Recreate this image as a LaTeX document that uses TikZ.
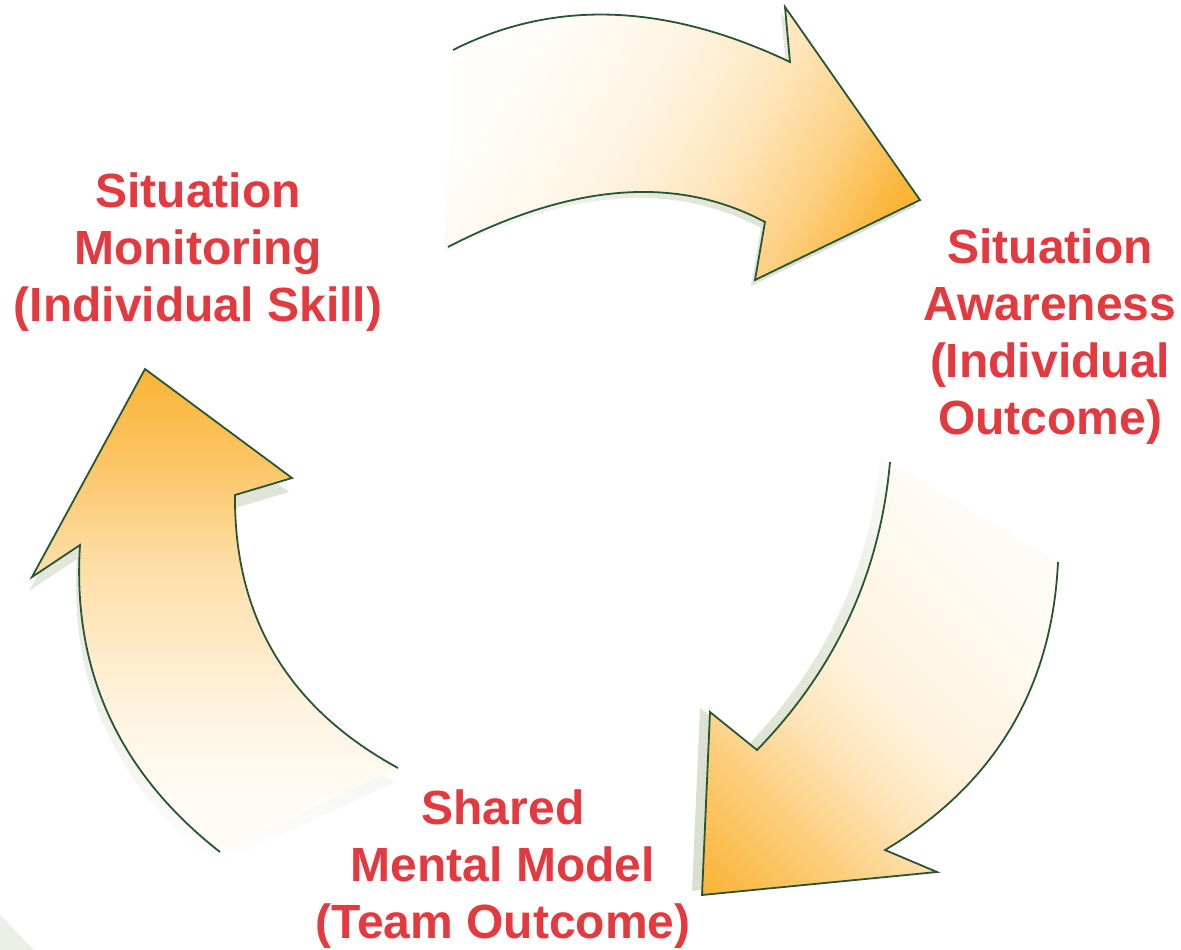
\documentclass[tikz,border=0pt]{standalone}
\usepackage{fontspec}
\setmainfont{Liberation Sans}
\definecolor{arrowOrange}{RGB}{251,180,55}
\definecolor{arrowLine}{RGB}{40,85,50}
\definecolor{labelRed}{RGB}{227,57,63}
\definecolor{shadowC}{RGB}{218,224,208}
\pgfdeclareverticalshading{topfade}{100bp}{color(0bp)=(arrowOrange); color(23bp)=(arrowOrange); color(33bp)=(arrowOrange!62!white); color(44bp)=(arrowOrange!33!white); color(56bp)=(arrowOrange!15!white); color(72bp)=(arrowOrange!3!white); color(100bp)=(white)}
\pgfdeclareverticalshading{rightfade}{100bp}{color(0bp)=(arrowOrange); color(15bp)=(arrowOrange); color(27bp)=(arrowOrange!70!white); color(40bp)=(arrowOrange!34!white); color(49bp)=(arrowOrange!17!white); color(72bp)=(arrowOrange!4!white); color(100bp)=(white)}
\pgfdeclareverticalshading{leftfade}{100bp}{color(0bp)=(arrowOrange); color(25bp)=(arrowOrange); color(33bp)=(arrowOrange!82!white); color(45bp)=(arrowOrange!45!white); color(60bp)=(arrowOrange!16!white); color(70bp)=(arrowOrange!4!white); color(100bp)=(white)}
\pgfdeclareverticalshading{shadowfade}{100bp}{color(0bp)=(shadowC); color(25bp)=(shadowC); color(50bp)=(shadowC!70!white); color(75bp)=(white); color(100bp)=(white)}
\begin{document}
\begin{tikzpicture}[x=1pt,y=-1pt,
  arrowshape/.style={draw=arrowLine, line width=1.8pt, line join=miter, shade},
  label/.style={text=labelRed, font=\bfseries\fontsize{48}{57}\selectfont, align=center, inner sep=0pt}]
\useasboundingbox (0,0) rectangle (1181,950);
% faint corner
\fill[shadowC!50!white] (0,915) -- (34,950) -- (0,950) -- cycle;
% ---- shadows
\begin{scope}[shift={(-4,6)}]
\shade[shading=shadowfade, shading angle=60]
 (453,50) .. controls (554,-1) and (666,3) .. (790,62) -- (785,7) -- (920,200) -- (755,280) -- (765,222) .. controls (677,175) and (572,183) .. (448,247) -- cycle;
\end{scope}
\begin{scope}[shift={(-10,-4)}]
\shade[shading=shadowfade, shading angle=-45]
 (1058,562) .. controls (1052,689) and (994,785) .. (885,850) -- (937,872) -- (702,895) -- (710,712) -- (757,750) .. controls (835,670) and (880,574) .. (890,462) -- cycle;
\end{scope}
\begin{scope}[shift={(-3,14)}]
\shade[shading=shadowfade, shading angle=180]
 (220,852) .. controls (119,773) and (72,671) .. (80,545) -- (32,577) -- (145,369) -- (292,478) -- (235,495) .. controls (234,617) and (288,708) .. (398,768) -- cycle;
\end{scope}
% ---- arrows
\path[arrowshape, shading=topfade, shading angle=60]
 (453,50) .. controls (554,-1) and (666,3) .. (790,62) -- (785,7) -- (920,200) -- (755,280) -- (765,222) .. controls (677,175) and (572,183) .. (448,247);
\path[arrowshape, shading=rightfade, shading angle=-45]
 (1058,562) .. controls (1052,689) and (994,785) .. (885,850) -- (937,872) -- (702,895) -- (710,712) -- (757,750) .. controls (835,670) and (880,574) .. (890,462);
\path[arrowshape, shading=leftfade, shading angle=180]
 (220,852) .. controls (119,773) and (72,671) .. (80,545) -- (32,577) -- (145,369) -- (292,478) -- (235,495) .. controls (234,617) and (288,708) .. (398,768);
% ---- labels
\node[label] (sm) at (198,252) {Situation\\Monitoring\\(Individual Skill)};
\node[label] (sa) at (1050,337) {Situation\\Awareness\\(Individual\\Outcome)};
\node[label] (smm) at (503,869) {Shared\\Mental Model\\(Team Outcome)};
\end{tikzpicture}
\end{document}
